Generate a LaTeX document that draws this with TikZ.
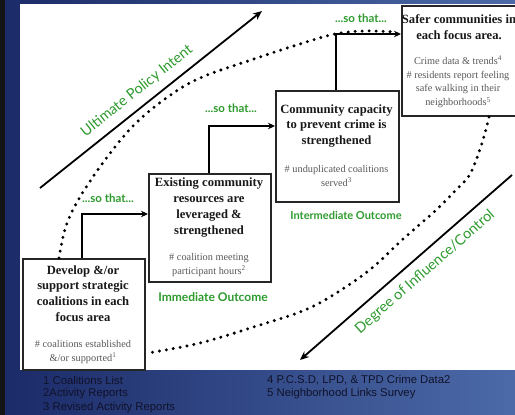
\documentclass[tikz,border=0pt]{standalone}
\usepackage{fontspec}
\setmainfont{Liberation Serif}
\newfontfamily\lato{Lato}
\newfontfamily\arial{Liberation Sans}
\usetikzlibrary{arrows.meta,calc}
\definecolor{grn}{HTML}{2E9B2E}
\definecolor{bgl}{HTML}{1B2A68}
\definecolor{bgr}{HTML}{4C6AA8}
\definecolor{foottxt}{HTML}{10122A}
\tikzset{
 box/.style={draw=black!85, line width=2pt, fill=white, anchor=north west, inner sep=0pt},
 ttl/.style={font=\fontsize{12.6}{15.7}\selectfont\bfseries, align=center, text=black!90, inner sep=0pt},
 subt/.style={font=\fontsize{10.3}{13.8}\selectfont, align=center, text=black!65, inner sep=0pt},
 conn/.style={line width=1.8pt, -{Stealth[length=7pt,width=6.5pt]}},
 dots/.style={line width=3.3pt, line cap=round, dash pattern=on 0pt off 7pt},
 sothat/.style={font=\lato\bfseries\fontsize{11.5}{13}\selectfont, text=grn, inner sep=0pt},
 outc/.style={font=\lato\bfseries\fontsize{12}{14}\selectfont, text=grn, inner sep=0pt},
 axlbl/.style={font=\lato\fontsize{14.5}{16}\selectfont, text=grn, inner sep=0pt},
 bigarrow/.style={line width=1.8pt, -{Stealth[length=9pt,width=7.5pt]}},
 foot/.style={font=\arial\fontsize{11.3}{14}\selectfont, text=foottxt, anchor=west, inner sep=0pt}
}
\begin{document}
\begin{tikzpicture}[x=1pt,y=-1pt]
\useasboundingbox (0,0) rectangle (515,415);
\shade[left color=bgl, right color=bgr] (0,0) rectangle (515,415);
\fill[black!92] (0,0) rectangle (5,415);
\fill[white] (20,4) rectangle (515,370);
\begin{scope}
\clip (20,4) rectangle (515,370);
% boxes
\node[box, minimum width=122pt, minimum height=111pt] (b1) at (22,258) {};
\node[box, minimum width=122pt, minimum height=108pt] (b2) at (148,173) {};
\node[box, minimum width=123pt, minimum height=111pt] (b3) at (275,90) {};
\node[box, minimum width=121pt, minimum height=110pt] (b4) at (401,5) {};
% texts
\node[ttl] (t1) at (83,293.5) {Develop \&/or\\support strategic\\coalitions in each\\focus area};
\node[subt] (s1) at (83,352) {\# coalitions established\\\&/or supported\textsuperscript{1}};
\node[ttl] (t2) at (209,207.5) {Existing community\\resources are\\leveraged \&\\strengthened};
\node[subt] (s2) at (209,265) {\# coalition meeting\\participant hours\textsuperscript{2}};
\node[ttl] (t3) at (336.5,126) {Community capacity\\to prevent crime is\\strengthened};
\node[subt] (s3) at (336.5,176) {\# unduplicated coalitions\\served\textsuperscript{3}};
\node[ttl] (t4) at (459,27.5) {Safer communities in\\each focus area.};
\node[subt] (s4) at (458,82) {Crime data \& trends\textsuperscript{4}\\\# residents report feeling\\safe walking in their\\neighborhoods\textsuperscript{5}};
% connectors
\draw[conn] ([xshift=-2pt]b1.north) |- ([yshift=14pt]b2.west);
\draw[conn] ([xshift=-1pt]b2.north) |- ([yshift=20.5pt]b3.west);
\draw[conn] ([xshift=-1.5pt]b3.north) |- ([yshift=27pt]b4.west);
% dotted curves
\draw[dots] plot[smooth, tension=0.6] coordinates {([xshift=-25pt]b1.north) (66,226) (80,197) (105,160) (133,126) (165,99) (200,78) (260,57) (300,44) (335,34) (365,31) ([xshift=-6pt,yshift=29pt]b4.west)};
\draw[dots] plot[smooth, tension=0.6] coordinates {([xshift=26.5pt]b4.south) (482,143) (470,174) (455,191) (435,211) (402,240) (372,268) (338,292) (305,310) (260,325) (200,343) ([xshift=2pt,yshift=-38.5pt]b1.east)};
% big arrows
\coordinate (u0) at (40,188);
\coordinate (u1) at (262,11);
\draw[bigarrow] (u0) -- (u1);
\coordinate (d0) at (512,175);
\coordinate (d1) at (300,360);
\draw[bigarrow] (d0) -- (d1);
\node[axlbl, rotate=38.6] (ul) at (137,91) {Ultimate Policy Intent};
\node[axlbl, rotate=41.2] (dl) at (425,272) {Degree of Influence/Control};
% green labels
\node[sothat] (st1) at (108,198) {...so that...};
\node[sothat] (st2) at (231,108) {...so that...};
\node[sothat] (st3) at (361,18) {...so that...};
\node[outc] (o1) at (213,297) {Immediate Outcome};
\node[outc, font=\lato\bfseries\fontsize{11}{13}\selectfont] (o2) at (346,215) {Intermediate Outcome};
\end{scope}
% footnotes
\node[foot] (f1) at (43,380) {1 Coalitions List};
\node[foot] (f2) at (43,394) {2Activity Reports};
\node[foot] (f3) at (43,408) {3 Revised Activity Reports};
\node[foot] (f4) at (267,380) {4 P.C.S.D, LPD, \& TPD Crime Data2};
\node[foot] (f5) at (267,394) {5 Neighborhood Links Survey};
\end{tikzpicture}
\end{document}
